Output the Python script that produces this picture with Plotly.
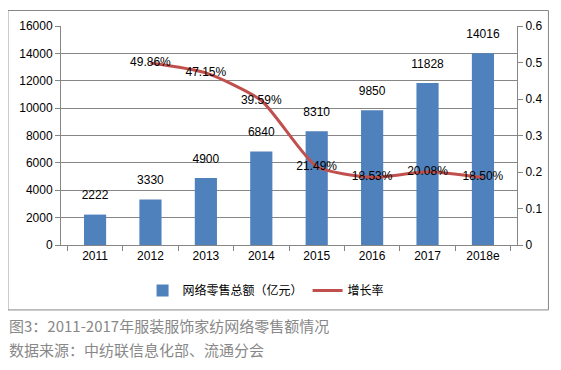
import plotly.graph_objects as go

years = ["2011", "2012", "2013", "2014", "2015", "2016", "2017", "2018e"]
sales = [2222, 3330, 4900, 6840, 8310, 9850, 11828, 14016]
growth = [None, 0.4986, 0.4715, 0.3959, 0.2149, 0.1853, 0.2008, 0.1850]
growth_labels = ["", "49.86%", "47.15%", "39.59%", "21.49%", "18.53%", "20.08%", "18.50%"]
left_ticks = [0, 2000, 4000, 6000, 8000, 10000, 12000, 14000, 16000]
right_ticks = [0, 0.1, 0.2, 0.3, 0.4, 0.5, 0.6]

OFF = 8  # default page body margin
W, H = 561 - 2 * OFF, 370 - 2 * OFF
# target positions in window pixels
pL, pR, pT, pB = 57, 521, 19, 245
L, T = pL - OFF, pT - OFF
R = W - (pR - OFF)
B = H - (pB - OFF)
pw, ph = W - L - R, H - T - B

def px(x):
    return (x - OFF - L) / pw

def py(y):
    return (pB - y) / ph

font_num = "Liberation Sans, Arial, sans-serif"
font_cjk = "Noto Sans CJK SC, sans-serif"

fig = go.Figure()
fig.add_trace(go.Bar(
    x=years, y=sales, name="网络零售总额（亿元）",
    marker=dict(color="#4F81BD", line=dict(width=0)),
    width=0.4,
))
fig.add_trace(go.Scatter(
    x=years, y=sales, mode="markers+text", showlegend=False, hoverinfo="skip",
    marker=dict(size=18, opacity=0),
    text=[str(v) for v in sales], textposition="top center",
    textfont=dict(size=12, color="#000", family=font_num),
    cliponaxis=False,
))
fig.add_trace(go.Scatter(
    x=years, y=growth, name="增长率", yaxis="y2",
    mode="lines+text",
    line=dict(color="#C0504D", width=3, shape="spline", smoothing=0.6),
    text=growth_labels, textposition="middle center",
    textfont=dict(size=12, color="#000", family=font_num),
    cliponaxis=False,
))

fig.update_layout(
    width=W, height=H,
    margin=dict(l=L, r=R, t=T, b=B),
    paper_bgcolor="white", plot_bgcolor="white",
    showlegend=True,
    legend=dict(orientation="h", x=px(140), xanchor="left", y=py(292), yanchor="middle",
                font=dict(size=12, family=font_cjk, color="#000"),
                traceorder="normal"),
    xaxis=dict(type="category", showline=True, linecolor="#868686", ticks="outside",
               tickson="boundaries", ticklen=5, tickcolor="#868686",
               tickfont=dict(size=12, family=font_num, color="#000"), showgrid=False),
    yaxis=dict(range=[0, 16000], tickvals=left_ticks, ticktext=[str(v) for v in left_ticks],
               showline=True, linecolor="#868686",
               ticks="outside", ticklen=5, tickcolor="#868686", gridcolor="#868686", gridwidth=1,
               tickfont=dict(size=12, family=font_num, color="#000"), zeroline=False),
    yaxis2=dict(range=[0, 0.6], tickvals=right_ticks, ticktext=[str(v) for v in right_ticks],
                overlaying="y", side="right", showline=True, linecolor="#868686",
                ticks="outside", ticklen=5, tickcolor="#868686", showgrid=False, zeroline=False,
                tickfont=dict(size=12, family=font_num, color="#000")),
    bargap=0.6,
)

fig.add_shape(type="rect", xref="paper", yref="paper",
              x0=px(3), x1=px(553), y0=py(312), y1=py(3),
              line=dict(color="#868686", width=1), fillcolor="rgba(0,0,0,0)", layer="below")

fig.add_annotation(text="图3：2011-2017年服装服饰家纺网络零售额情况", xref="paper", yref="paper",
                   x=px(2), y=py(328), xanchor="left", yanchor="middle", showarrow=False,
                   font=dict(size=15, family=font_cjk, color="#888888"))
fig.add_annotation(text="数据来源：中纺联信息化部、流通分会", xref="paper", yref="paper",
                   x=px(2), y=py(353), xanchor="left", yanchor="middle", showarrow=False,
                   font=dict(size=15, family=font_cjk, color="#888888"))

fig.write_html("out.html")
